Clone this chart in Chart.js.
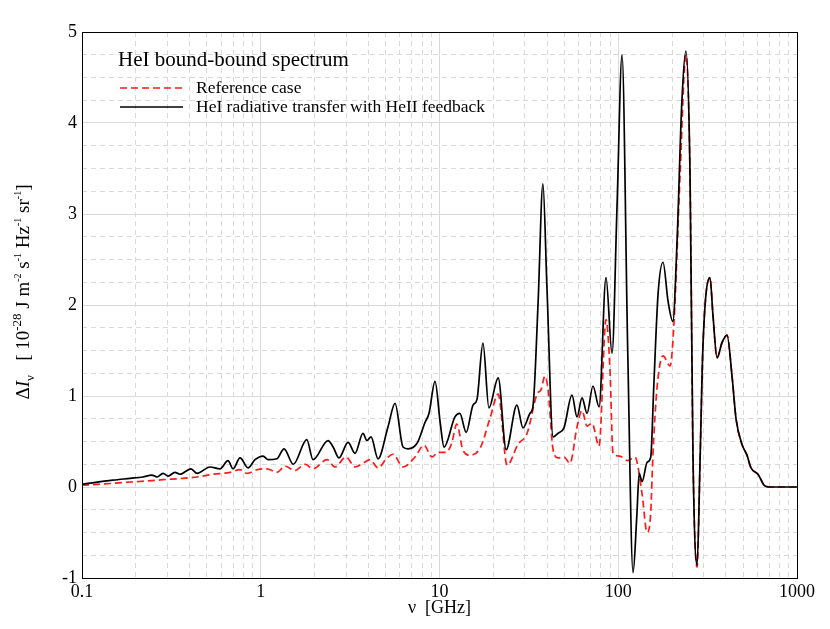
<!DOCTYPE html>
<html>
<head>
<meta charset="utf-8">
<title>HeI bound-bound spectrum</title>
<script src="https://cdn.jsdelivr.net/npm/chart.js@4.4.1/dist/chart.umd.min.js"></script>
<style>
    html, body { margin: 0; padding: 0; background: #fff; }
    #spec { display: block; }
</style>
</head>
<body>
<canvas id="spec" width="830" height="629"></canvas>
<script>
// frequencies in GHz, intensities in 1e-28 J m^-2 s^-1 Hz^-1 sr^-1
const freqRef = [0.1, 0.149, 0.186, 0.231, 0.284, 0.367, 0.44, 0.541, 0.673, 0.766, 0.838, 0.953,
    1.03, 1.13, 1.23, 1.37, 1.55, 1.77, 1.96, 2.35, 2.6, 3.0, 3.37, 3.73, 4.09, 4.53, 5.09, 5.5,
    6.25, 7.3, 8.19, 9.08, 9.81, 10.9, 11.7, 12.5, 13.5, 14.8, 16.9, 19.2, 21.3, 23.9, 27.5, 30.9,
    35.1, 37.0, 38.9, 40.5, 43.2, 46.0, 49.7, 53.7, 58.8, 62.7, 66.9, 71.3, 78.1, 85.4, 89.9, 93.5,
    102, 113, 124, 136, 145, 152, 156, 165, 178, 195, 205, 222, 239, 252, 262, 276, 287, 298,
    326, 339, 357, 381, 406, 433, 456, 492, 525, 553, 605, 662, 700, 1000];
const valRef = [0.02, 0.04, 0.055, 0.066, 0.08, 0.095, 0.11, 0.14, 0.16, 0.19, 0.15, 0.19,
    0.20, 0.19, 0.16, 0.23, 0.18, 0.25, 0.20, 0.30, 0.22, 0.33, 0.22, 0.26, 0.30, 0.21, 0.32, 0.36,
    0.22, 0.33, 0.46, 0.33, 0.38, 0.38, 0.48, 0.69, 0.41, 0.35, 0.43, 0.76, 1.02, 0.24, 0.47, 0.59,
    1.02, 1.07, 1.22, 1.07, 0.41, 0.32, 0.33, 0.26, 0.66, 0.84, 0.67, 0.70, 0.45, 1.84, 1.29, 0.37,
    0.34, 0.29, 0.33, -0.08, -0.50, -0.28, 0.31, 1.10, 1.44, 1.33, 1.80, 3.45, 4.75, 3.45, 0.31, -0.88, 0.31, 1.57,
    2.30, 1.88, 1.42, 1.59, 1.67, 1.22, 0.75, 0.47, 0.35, 0.21, 0.14, 0.01, 0, 0];

const freqFb = [0.1, 0.149, 0.186, 0.219, 0.246, 0.263, 0.284, 0.303, 0.331, 0.353, 0.407, 0.44,
    0.52, 0.592, 0.656, 0.7, 0.766, 0.849, 0.929, 1.03, 1.1, 1.23, 1.35, 1.52, 1.81, 1.96, 2.38,
    2.54, 2.74, 3.08, 3.37, 3.73, 3.93, 4.14, 4.53, 5.15, 5.64, 6.25, 6.67, 7.49, 8.3, 8.74, 9.44,
    10.1, 10.6, 12.2, 13.0, 14.1, 15.4, 16.2, 17.5, 18.9, 21.3, 23.6, 27.1, 29.3, 32.1, 33.4, 35.6,
    37.9, 39.9, 43.2, 46.0, 49.7, 55.1, 58.8, 62.7, 66.9, 72.2, 78.1, 85.4, 92.3, 98.4, 105, 113,
    121, 127, 131, 136, 145, 152, 158, 167, 178, 190, 202, 213, 227, 239, 252, 262, 276, 287, 298,
    326, 339, 357, 381, 406, 433, 456, 492, 525, 553, 605, 662, 700, 1000];
const valFb = [0.03, 0.075, 0.095, 0.11, 0.13, 0.11, 0.15, 0.12, 0.16, 0.14, 0.20, 0.15,
    0.22, 0.20, 0.29, 0.20, 0.32, 0.21, 0.30, 0.34, 0.30, 0.31, 0.42, 0.25, 0.52, 0.30, 0.51,
    0.44, 0.32, 0.49, 0.37, 0.59, 0.51, 0.55, 0.31, 0.66, 0.92, 0.44, 0.42, 0.48, 0.71, 0.81, 1.16,
    0.70, 0.44, 0.77, 0.81, 0.60, 0.90, 0.96, 1.58, 0.87, 1.20, 0.41, 0.90, 0.65, 0.81, 0.90, 2.02,
    3.33, 2.20, 0.55, 0.59, 0.65, 1.01, 0.77, 0.98, 0.81, 1.11, 0.88, 2.30, 1.47, 3.07, 4.75, 1.49,
    -0.94, -0.32, 0.15, 0.06, 0.27, 0.33, 1.10, 2.12, 2.47, 2.04, 1.82, 2.67, 4.24, 4.79, 3.45, 0.31, -0.86, 0.31, 1.57,
    2.30, 1.88, 1.42, 1.59, 1.67, 1.22, 0.75, 0.47, 0.35, 0.21, 0.14, 0.01, 0, 0];

const xTickLabels = ['0.1', '1', '10', '100', '1000'];
const legendTitle = 'HeI bound-bound spectrum';
const seriesNames = ['Reference case', 'HeI radiative transfer with HeII feedback'];
const xTitle = 'ν  [GHz]';

const serif = '"Liberation Serif", "Times New Roman", serif';
const gridCol = '#d9d9d9';

function isDecade(v) {
    const l = Math.log10(v);
    return Math.abs(l - Math.round(l)) < 1e-6;
}

// legend drawn inside the plot, no box
const insideLegend = {
    id: 'insideLegend',
    afterDraw(chart) {
        const ctx = chart.ctx, a = chart.chartArea;
        const x0 = a.left + 36, y0 = a.top + 28;
        ctx.save();
        ctx.fillStyle = '#000';
        ctx.textBaseline = 'middle';
        ctx.font = '21px ' + serif;
        ctx.fillText(legendTitle, x0, y0);
        ctx.font = '17.5px ' + serif;
        // legend rows: reference first, then feedback
        [1, 0].forEach((di, row) => {
            const ds = chart.data.datasets[di];
            const y = y0 + 28 + row * 19;
            ctx.strokeStyle = ds.borderColor;
            ctx.lineWidth = ds.borderWidth;
            ctx.setLineDash(ds.borderDash || []);
            ctx.beginPath();
            ctx.moveTo(x0 + 2, y);
            ctx.lineTo(x0 + 65, y);
            ctx.stroke();
            ctx.fillText(ds.label, x0 + 78, y);
        });
        ctx.restore();
    }
};

// frame and y-axis title with sub/superscripts
const frameAndTitle = {
    id: 'frameAndTitle',
    afterDraw(chart) {
        const ctx = chart.ctx, a = chart.chartArea;
        ctx.save();
        ctx.strokeStyle = '#000';
        ctx.lineWidth = 1;
        ctx.setLineDash([]);
        ctx.strokeRect(a.left + 0.5, a.top + 0.5, a.right - a.left, a.bottom - a.top);

        const parts = [
            { t: 'Δ', f: '19px ' + serif, dy: 0 },
            { t: 'I', f: 'italic 19px ' + serif, dy: 0 },
            { t: 'ν', f: '13px ' + serif, dy: 5 },
            { t: '   [ 10', f: '19px ' + serif, dy: 0 },
            { t: '-28', f: '13px ' + serif, dy: -8 },
            { t: ' J m', f: '19px ' + serif, dy: 0 },
            { t: '-2', f: '10px ' + serif, dy: -8 },
            { t: ' s', f: '19px ' + serif, dy: 0 },
            { t: '-1', f: '10px ' + serif, dy: -8 },
            { t: ' Hz', f: '19px ' + serif, dy: 0 },
            { t: '-1', f: '10px ' + serif, dy: -8 },
            { t: ' sr', f: '19px ' + serif, dy: 0 },
            { t: '-1', f: '10px ' + serif, dy: -8 },
            { t: ']', f: '19px ' + serif, dy: 0 }
        ];
        let total = 0;
        parts.forEach(p => { ctx.font = p.f; p.w = ctx.measureText(p.t).width; total += p.w; });
        ctx.translate(22, 292);
        ctx.rotate(-Math.PI / 2);
        ctx.fillStyle = '#000';
        ctx.textBaseline = 'alphabetic';
        let x = -total / 2;
        parts.forEach(p => {
            ctx.font = p.f;
            ctx.fillText(p.t, x, 7 + p.dy);
            x += p.w;
        });
        ctx.restore();
    }
};

const ctx = document.getElementById('spec').getContext('2d');
new Chart(ctx, {
    type: 'line',
    data: {
        datasets: [
            {
                label: seriesNames[1],
                data: freqFb.map((f, i) => ({ x: f, y: valFb[i] })),
                borderColor: '#000000',
                borderWidth: 1.7,
                pointRadius: 0,
                cubicInterpolationMode: 'monotone',
                fill: false
            },
            {
                label: seriesNames[0],
                data: freqRef.map((f, i) => ({ x: f, y: valRef[i] })),
                borderColor: '#ff1a1a',
                borderWidth: 1.7,
                borderDash: [7, 4],
                pointRadius: 0,
                cubicInterpolationMode: 'monotone',
                fill: false
            }
        ]
    },
    options: {
        responsive: false,
        animation: false,
        devicePixelRatio: 1,
        layout: { padding: { left: 0, right: 33, top: 32, bottom: 0 } },
        plugins: {
            legend: { display: false },
            tooltip: { enabled: false }
        },
        scales: {
            x: {
                type: 'logarithmic',
                min: 0.1,
                max: 1000,
                afterBuildTicks(scale) {
                    const t = [];
                    for (let e = -1; e < 3; e++) {
                        for (let m = 1; m < 10; m++) t.push({ value: m * Math.pow(10, e) });
                    }
                    t.push({ value: 1000 });
                    scale.ticks = t;
                },
                afterFit(scale) { scale.height = 51; },
                ticks: {
                    autoSkip: false,
                    maxRotation: 0,
                    padding: 3,
                    color: '#000',
                    font: { family: serif, size: 18 },
                    callback(value) {
                        if (!isDecade(value)) return '';
                        return xTickLabels[Math.round(Math.log10(value)) + 1];
                    }
                },
                grid: {
                    drawTicks: false,
                    color: gridCol,
                    lineWidth: 1
                },
                border: {
                    display: false,
                    dash: c => (c.tick && isDecade(c.tick.value)) ? [] : [5, 4]
                },
                title: {
                    display: true,
                    text: xTitle,
                    color: '#000',
                    font: { family: serif, size: 18 },
                    padding: { top: 0, bottom: 10 }
                }
            },
            y: {
                min: -1,
                max: 5,
                afterFit(scale) { scale.width = 82; },
                ticks: {
                    stepSize: 0.25,
                    autoSkip: false,
                    padding: 5,
                    color: '#000',
                    font: { family: serif, size: 18 },
                    callback(value) {
                        return Number.isInteger(value) ? String(value) : '';
                    }
                },
                grid: {
                    drawTicks: false,
                    color: gridCol,
                    lineWidth: 1
                },
                border: {
                    display: false,
                    dash: c => (c.tick && Number.isInteger(c.tick.value)) ? [] : [5, 4]
                }
            }
        }
    },
    plugins: [insideLegend, frameAndTitle]
});
</script>
</body>
</html>
